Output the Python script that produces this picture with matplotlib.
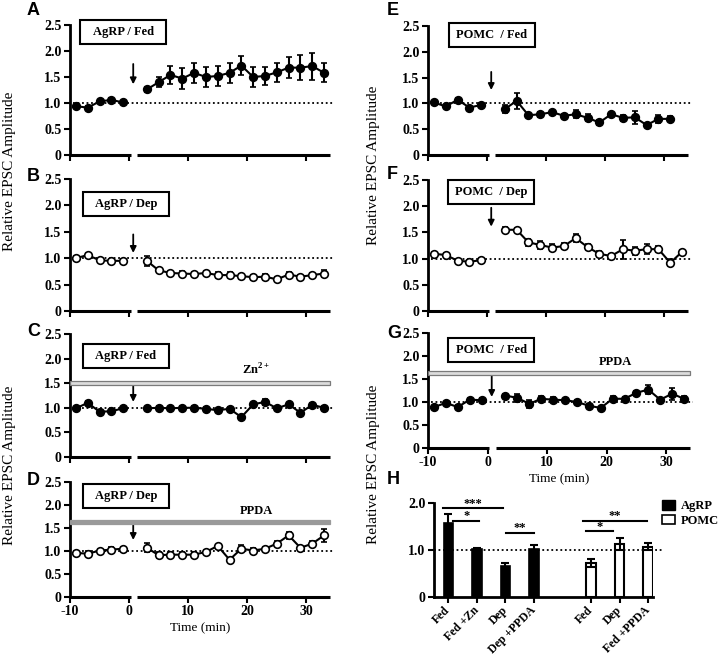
import matplotlib
matplotlib.use('Agg')
import matplotlib.pyplot as plt
from matplotlib.patches import Rectangle, Patch
from matplotlib.ticker import FuncFormatter

plt.rcParams['font.family'] = 'Liberation Serif'
plt.rcParams['font.weight'] = 'bold'
plt.rcParams['axes.unicode_minus'] = False
plt.rcParams['mathtext.fontset'] = 'custom'
plt.rcParams['mathtext.rm'] = 'Liberation Serif:bold'
plt.rcParams['mathtext.bf'] = 'Liberation Serif:bold'

# time points (min)
t_pre = [-9, -7, -5, -3, -1]
t_post = [3, 5, 7, 9, 11, 13, 15, 17, 19, 21, 23, 25, 27, 29, 31, 33]
t_post_e = [3, 5, 7, 9, 11, 13, 15, 17, 19, 21, 23, 25, 27, 29, 31]

# A: AgRP / Fed
a_pre = [0.94, 0.91, 1.03, 1.06, 1.01]
a_pre_err = [0.03, 0.03, 0.03, 0.03, 0.03]
a_post = [1.26, 1.40, 1.54, 1.47, 1.58, 1.50, 1.52, 1.58, 1.72, 1.50, 1.52, 1.59, 1.68, 1.68, 1.71, 1.58]
a_post_err = [0.05, 0.10, 0.17, 0.20, 0.19, 0.20, 0.20, 0.19, 0.18, 0.19, 0.18, 0.18, 0.20, 0.24, 0.26, 0.18]

# B: AgRP / Dep
b_pre = [1.00, 1.06, 0.96, 0.95, 0.95]
b_pre_err = [0.04, 0.04, 0.03, 0.03, 0.03]
b_post = [0.95, 0.77, 0.72, 0.71, 0.70, 0.72, 0.68, 0.68, 0.66, 0.64, 0.65, 0.60, 0.69, 0.65, 0.68, 0.71]
b_post_err = [0.10, 0.04, 0.04, 0.05, 0.04, 0.04, 0.05, 0.05, 0.05, 0.05, 0.06, 0.04, 0.05, 0.03, 0.04, 0.06]

# C: AgRP / Fed + Zn2+
c_pre = [0.99, 1.10, 0.92, 0.93, 0.99]
c_pre_err = [0.03, 0.03, 0.03, 0.03, 0.03]
c_post = [0.99, 1.00, 0.99, 1.00, 1.00, 0.98, 0.95, 0.98, 0.81, 1.07, 1.12, 0.99, 1.07, 0.90, 1.06, 1.00]
c_post_err = [0.03, 0.03, 0.03, 0.03, 0.03, 0.03, 0.03, 0.03, 0.03, 0.03, 0.06, 0.03, 0.03, 0.03, 0.03, 0.03]

# D: AgRP / Dep + PPDA
d_pre = [0.96, 0.94, 1.01, 1.03, 1.05]
d_pre_err = [0.03, 0.05, 0.04, 0.06, 0.03]
d_post = [1.07, 0.91, 0.92, 0.92, 0.92, 0.98, 1.11, 0.81, 1.05, 1.01, 1.05, 1.16, 1.34, 1.07, 1.16, 1.34]
d_post_err = [0.10, 0.06, 0.06, 0.05, 0.05, 0.05, 0.03, 0.04, 0.07, 0.05, 0.03, 0.05, 0.07, 0.03, 0.05, 0.14]

# E: POMC / Fed
e_pre = [1.02, 0.94, 1.07, 0.92, 0.97]
e_pre_err = [0.03, 0.03, 0.03, 0.03, 0.03]
e_post = [0.89, 1.05, 0.77, 0.79, 0.83, 0.76, 0.79, 0.72, 0.63, 0.79, 0.72, 0.73, 0.58, 0.70, 0.70]
e_post_err = [0.07, 0.15, 0.04, 0.05, 0.03, 0.03, 0.08, 0.07, 0.05, 0.03, 0.06, 0.12, 0.03, 0.08, 0.05]

# F: POMC / Dep
f_pre = [1.09, 1.07, 0.96, 0.94, 0.97]
f_pre_err = [0.04, 0.04, 0.04, 0.03, 0.04]
f_post = [1.55, 1.55, 1.31, 1.26, 1.21, 1.24, 1.39, 1.22, 1.09, 1.05, 1.18, 1.15, 1.18, 1.18, 0.92, 1.13]
f_post_err = [0.05, 0.03, 0.06, 0.08, 0.06, 0.05, 0.08, 0.05, 0.06, 0.04, 0.18, 0.08, 0.10, 0.06, 0.07, 0.03]

# G: POMC / Fed + PPDA
g_pre = [0.89, 0.98, 0.89, 1.05, 1.04]
g_pre_err = [0.03, 0.03, 0.04, 0.03, 0.05]
g_post = [1.14, 1.09, 0.96, 1.07, 1.05, 1.04, 1.00, 0.92, 0.87, 1.07, 1.07, 1.20, 1.27, 1.05, 1.18, 1.07]
g_post_err = [0.03, 0.08, 0.08, 0.05, 0.06, 0.03, 0.05, 0.04, 0.03, 0.05, 0.03, 0.03, 0.10, 0.03, 0.13, 0.06]

# H: summary bars
agrp_labels = ['Fed', 'Fed +Zn', 'Dep', 'Dep +PPDA']
agrp_vals = [1.57, 1.02, 0.65, 1.03]
agrp_err = [0.20, 0.02, 0.07, 0.08]
pomc_labels = ['Fed', 'Dep', 'Fed +PPDA']
pomc_vals = [0.72, 1.13, 1.07]
pomc_err = [0.08, 0.12, 0.07]
agrp_pos = [0, 1, 2, 3]
pomc_pos = [5, 6, 7]

W, H = 720, 655
fig = plt.figure(figsize=(7.2, 6.55), dpi=100)


def px_axes(x0, y0, x1, y1):
    return fig.add_axes([x0 / W, 1 - y1 / H, (x1 - x0) / W, (y1 - y0) / H])


yfmt = FuncFormatter(lambda v, p: '0' if abs(v) < 1e-9 else '%.1f' % v)


def trace_panel(ax, pre, pre_err, tpost, post, post_err, filled, label, box_c,
                arrow, drug=None, show_x=False):
    mfc = 'black' if filled else 'white'
    for tt, yy, ee in [(t_pre, pre, pre_err), (tpost, post, post_err)]:
        ax.errorbar(tt, yy, yerr=ee, fmt='o-', color='black', mfc=mfc, mec='black',
                    ms=5.5, mew=1.2, lw=1.5, elinewidth=1.5, capsize=2.5, capthick=1.5,
                    zorder=4)
    ax.plot([-9.5, 34.5], [1, 1], color='black', lw=1.3, ls=(0, (1, 1.5)),
            clip_on=False, zorder=2)
    ax.set_xlim(-10, 34)
    ax.set_ylim(0, 2.5)
    ax.set_yticks([0, 0.5, 1.0, 1.5, 2.0, 2.5])
    ax.yaxis.set_major_formatter(yfmt)
    ax.set_xticks([-10, 0, 10, 20, 30])
    for s in ['top', 'right', 'bottom']:
        ax.spines[s].set_visible(False)
    ax.spines['left'].set_linewidth(2)
    ax.plot([-10, 0.3], [0, 0], color='black', lw=2.2, clip_on=False,
            solid_capstyle='butt')
    ax.plot([1.4, 34], [0, 0], color='black', lw=2.2, clip_on=False,
            solid_capstyle='butt')
    ax.tick_params(direction='out', length=4, width=1.5, labelsize=10, pad=2)
    if not show_x:
        ax.set_xticklabels([])
    else:
        ax.set_xlabel('Time (min)', fontsize=9.5, labelpad=3)
    # label box
    bb = ax.get_position()
    bw = 86 / (bb.width * W)
    bh = 24 / (bb.height * H)
    ax.add_patch(Rectangle((box_c[0] - bw / 2, box_c[1] - bh / 2), bw, bh,
                           transform=ax.transAxes, fill=False, lw=1.5,
                           ec='black', clip_on=False))
    ax.text(box_c[0], box_c[1], label, transform=ax.transAxes, ha='center',
            va='center', fontsize=9)
    ax.annotate('', xy=(0.7, arrow[1]), xytext=(0.7, arrow[0]),
                arrowprops=dict(arrowstyle='-|>', color='black', lw=1.3,
                                mutation_scale=9, shrinkA=0, shrinkB=0))
    if drug is not None:
        name, yb, hb, fc, ec = drug
        ax.add_patch(Rectangle((-10, yb - hb / 2), 44, hb, fc=fc, ec=ec, lw=0.9,
                               clip_on=False, zorder=3))
        ax.text(21.5, yb + 0.12, name, ha='center', va='bottom', fontsize=9)


axA = px_axes(70, 25, 330, 155)
trace_panel(axA, a_pre, a_pre_err, t_post, a_post, a_post_err, True,
            'AgRP / Fed', (0.204, 0.95), (1.75, 1.36))
axB = px_axes(70, 179, 330, 311)
trace_panel(axB, b_pre, b_pre_err, t_post, b_post, b_post_err, False,
            'AgRP / Dep', (0.216, 0.807), (1.45, 1.10))
axC = px_axes(70, 334, 330, 457)
trace_panel(axC, c_pre, c_pre_err, t_post, c_post, c_post_err, True,
            'AgRP / Fed', (0.215, 0.825), (1.46, 1.12),
            drug=(r'Zn$^{\mathregular{2+}}$', 1.50, 0.08, '#dcdcdc', '#7a7a7a'))
axD = px_axes(70, 482, 330, 597)
trace_panel(axD, d_pre, d_pre_err, t_post, d_post, d_post_err, False,
            'AgRP / Dep', (0.217, 0.874), (1.60, 1.24),
            drug=('PPDA', 1.63, 0.10, '#9a9a9a', '#9a9a9a'), show_x=True)
axE = px_axes(428, 26, 688, 155)
trace_panel(axE, e_pre, e_pre_err, t_post_e, e_post, e_post_err, True,
            'POMC  / Fed', (0.246, 0.934), (1.61, 1.26))
axF = px_axes(428, 180, 688, 311)
trace_panel(axF, f_pre, f_pre_err, t_post, f_post, f_post_err, False,
            'POMC  / Dep', (0.244, 0.912), (1.97, 1.61))
axG = px_axes(428, 333, 690, 448)
trace_panel(axG, g_pre, g_pre_err, t_post, g_post, g_post_err, True,
            'POMC  / Fed', (0.242, 0.852), (1.58, 1.11),
            drug=('PPDA', 1.63, 0.07, '#dcdcdc', '#7a7a7a'), show_x=True)

# H: summary
axH = px_axes(434, 503, 653, 597)
axH.bar(agrp_pos, agrp_vals, width=0.33, color='black', ec='black', lw=1.2,
        label='AgRP', zorder=3)
axH.bar(pomc_pos, pomc_vals, width=0.33, color='white', ec='black', lw=1.5,
        label='POMC', zorder=3)
axH.errorbar(agrp_pos, agrp_vals, yerr=agrp_err, fmt='none', ecolor='black',
             elinewidth=1.5, capsize=3, capthick=1.5, zorder=4)
axH.errorbar(pomc_pos, pomc_vals, yerr=pomc_err, fmt='none', ecolor='black',
             elinewidth=1.5, capsize=3, capthick=1.5, zorder=4)
axH.plot([-0.5, 7.5], [1, 1], color='black', lw=1.3, ls=(0, (1, 1.5)),
         clip_on=False, zorder=5)
axH.set_xlim(-0.5, 7.17)
axH.set_ylim(0, 2.0)
axH.set_yticks([0, 1.0, 2.0])
axH.yaxis.set_major_formatter(yfmt)
axH.set_xticks(agrp_pos + pomc_pos)
axH.set_xticklabels(agrp_labels + pomc_labels, rotation=45, ha='right',
                    va='center', rotation_mode='anchor', fontsize=8.5)
for s in ['top', 'right']:
    axH.spines[s].set_visible(False)
axH.spines['left'].set_linewidth(2)
axH.spines['bottom'].set_linewidth(2)
axH.tick_params(direction='out', length=4, width=1.5, labelsize=10, pad=2)
axH.tick_params(axis='x', labelsize=8.5, pad=4)

# significance
sig = [(-0.17, 1.92, 1.89, '***'), (0.17, 1.08, 1.62, '*'), (2.03, 3.0, 1.36, '**'),
       (4.72, 6.96, 1.62, '**'), (4.83, 5.77, 1.40, '*')]
for x0, x1, yy, st in sig:
    axH.plot([x0, x1], [yy, yy], color='black', lw=1.5, clip_on=False)
    axH.text((x0 + x1) / 2, yy - 0.03, st, ha='center', va='bottom', fontsize=9)

axH.legend(handles=[Patch(fc='black', ec='black', label='AgRP'),
                    Patch(fc='white', ec='black', lw=1.2, label='POMC')],
           loc='upper left', bbox_to_anchor=(662 / W, 1 - 500 / H),
           bbox_transform=fig.transFigure, frameon=False, fontsize=9,
           handlelength=1.0, handleheight=0.8, handletextpad=0.5,
           borderpad=0, borderaxespad=0, labelspacing=0.2)

# panel letters
for letter, x, y in [('A', 27, 2), ('B', 27, 168), ('C', 27, 323), ('D', 27, 472),
                     ('E', 387, 2), ('F', 387, 166), ('G', 387, 325), ('H', 387, 471)]:
    fig.text(x / W, 1 - y / H, letter, ha='left', va='top', fontsize=13,
             family='Liberation Sans', weight='bold')

# y labels
for x, y in [(10, 171), (10, 465), (373, 165), (373, 464)]:
    fig.text(x / W, 1 - y / H, 'Relative EPSC Amplitude', rotation=90,
             ha='center', va='center', fontsize=11, weight='normal')

fig.savefig('out.png', dpi=100)
